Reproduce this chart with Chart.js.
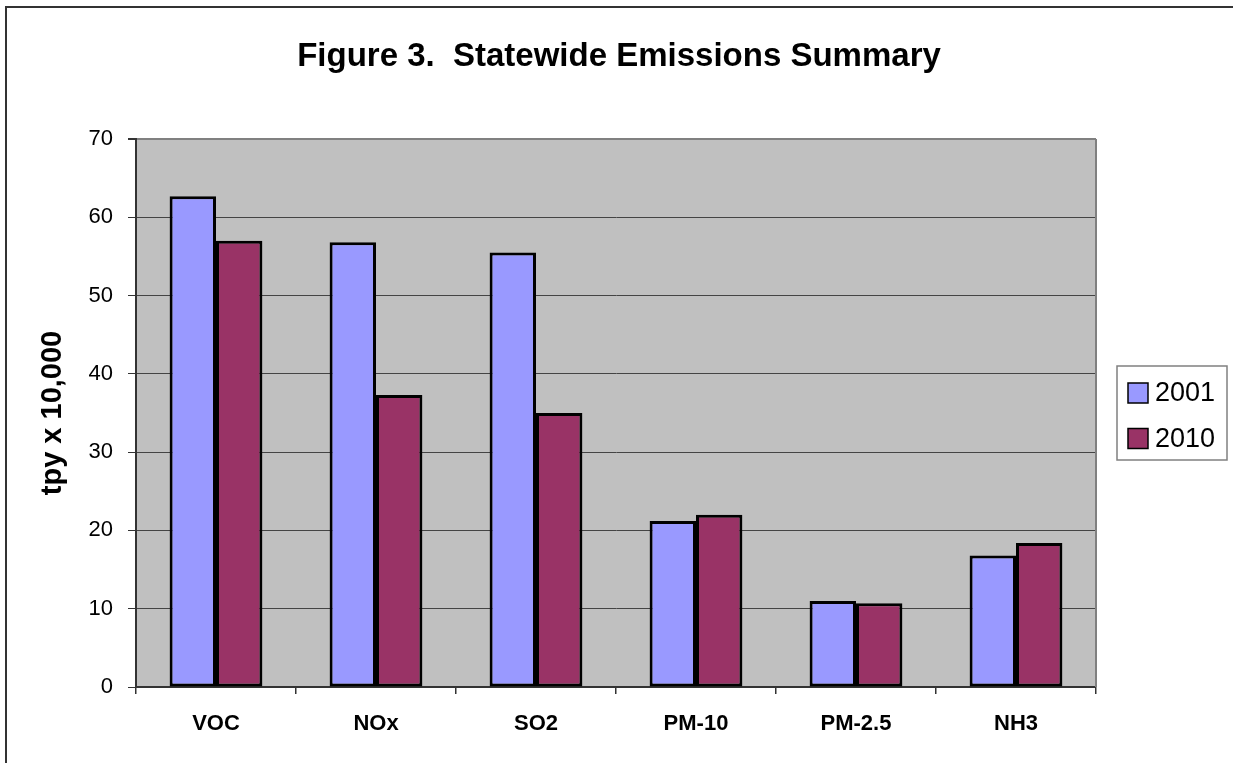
<!DOCTYPE html>
<html>
<head>
<meta charset="utf-8">
<script src="https://cdn.jsdelivr.net/npm/chart.js@4/dist/chart.umd.min.js"></script>
<style>
  html, body { margin: 0; padding: 0; background: #fff; overflow: hidden; }
  #wrap { position: relative; width: 1233px; height: 763px; }
</style>
</head>
<body>
<div id="wrap"><canvas id="chart" width="1233" height="763"></canvas></div>
<script>
// Pollutant categories and emissions (tons per year x 10,000)
const categories = ['VOC', 'NOx', 'SO2', 'PM-10', 'PM-2.5', 'NH3'];
const emissions2001 = [62.7, 56.8, 55.5, 21.2, 11.0, 16.8];
const emissions2010 = [57.0, 37.3, 35.0, 22.0, 10.7, 18.4];
const seriesLabels = ['2001', '2010'];
const yTicks = [0, 10, 20, 30, 40, 50, 60, 70];
const chartTitle = 'Figure 3.  Statewide Emissions Summary';

const FONT = "'Liberation Sans', Arial, sans-serif";

// Plot background, outer frame and right edge of the plot area
const framePlugin = {
  id: 'frame',
  beforeDraw(chart) {
    const { ctx, chartArea: a } = chart;
    ctx.save();
    ctx.fillStyle = '#fff';
    ctx.fillRect(0, 0, chart.width, chart.height);
    ctx.fillStyle = '#C0C0C0';
    ctx.fillRect(a.left, a.top, a.right - a.left, a.bottom - a.top);
    ctx.strokeStyle = '#333';
    ctx.lineWidth = 2;
    ctx.strokeRect(6, 7, chart.width + 20, chart.height + 20);
    ctx.restore();
  },
  beforeDatasetsDraw(chart) {
    const { ctx, chartArea: a } = chart;
    ctx.save();
    ctx.strokeStyle = '#808080';
    ctx.lineWidth = 2;
    ctx.beginPath();
    ctx.moveTo(a.right, a.top);
    ctx.lineTo(a.right, a.bottom);
    ctx.stroke();
    ctx.restore();
  }
};

// Title centred over the whole figure (plot plus legend column)
const figureTitlePlugin = {
  id: 'figureTitle',
  afterDraw(chart) {
    const { ctx } = chart;
    ctx.save();
    ctx.fillStyle = '#000';
    ctx.font = 'bold 33px ' + FONT;
    ctx.textAlign = 'center';
    ctx.textBaseline = 'middle';
    ctx.fillText(chartTitle, 619, 57);
    ctx.restore();
  }
};

// Boxed legend on the right side of the plot
const boxLegendPlugin = {
  id: 'boxLegend',
  afterDraw(chart) {
    const { ctx } = chart;
    const x = 1117, y = 366, w = 110, h = 94;
    ctx.save();
    ctx.fillStyle = '#fff';
    ctx.fillRect(x, y, w, h);
    ctx.strokeStyle = '#808080';
    ctx.lineWidth = 1.5;
    ctx.strokeRect(x, y, w, h);
    ctx.font = '27px ' + FONT;
    ctx.textBaseline = 'middle';
    ctx.textAlign = 'left';
    chart.data.datasets.forEach((ds, i) => {
      const cy = 393 + i * 45.5;
      ctx.fillStyle = ds.backgroundColor;
      ctx.fillRect(1128, cy - 10, 20, 20);
      ctx.strokeStyle = '#000';
      ctx.lineWidth = 1.5;
      ctx.strokeRect(1128, cy - 10, 20, 20);
      ctx.fillStyle = '#000';
      ctx.fillText(ds.label, 1155, cy + 1);
    });
    ctx.restore();
  }
};

new Chart(document.getElementById('chart'), {
  type: 'bar',
  data: {
    labels: categories,
    datasets: [
      {
        label: seriesLabels[0],
        data: emissions2001,
        backgroundColor: '#9999FF',
        borderColor: '#000',
        borderWidth: 3,
        borderSkipped: false,
        categoryPercentage: 0.58,
        barPercentage: 1.0
      },
      {
        label: seriesLabels[1],
        data: emissions2010,
        backgroundColor: '#993366',
        borderColor: '#000',
        borderWidth: 3,
        borderSkipped: false,
        categoryPercentage: 0.58,
        barPercentage: 1.0
      }
    ]
  },
  options: {
    responsive: false,
    animation: false,
    devicePixelRatio: 1,
    layout: { padding: { left: 0, right: 137, top: 139, bottom: 0 } },
    plugins: {
      legend: { display: false },
      tooltip: { enabled: false },
      title: { display: false }
    },
    scales: {
      x: {
        offset: true,
        grid: {
          offset: true,
          drawOnChartArea: false,
          drawTicks: true,
          tickLength: 7,
          color: '#333',
          lineWidth: 1.5
        },
        border: { color: '#333', width: 2 },
        ticks: {
          color: '#000',
          font: { family: FONT, size: 22, weight: 'bold' },
          padding: 17,
          maxRotation: 0
        },
        afterFit(scale) { scale.height = 76; }
      },
      y: {
        min: 0,
        max: 70,
        afterBuildTicks(scale) { scale.ticks = yTicks.map(v => ({ value: v })); },
        grid: {
          color: (c) => (c.tick && c.tick.value === 70 ? '#808080' : '#444'),
          lineWidth: (c) => (c.tick && c.tick.value === 70 ? 2 : 1),
          tickColor: '#333',
          tickLength: 8,
          drawTicks: true
        },
        border: { color: '#333', width: 2 },
        ticks: {
          color: '#000',
          font: { family: FONT, size: 22 },
          padding: 15
        },
        title: {
          display: true,
          text: 'tpy x 10,000',
          color: '#000',
          font: { family: FONT, size: 29, weight: 'bold' },
          padding: { top: 36, bottom: 0 }
        },
        afterFit(scale) { scale.width = 136; }
      }
    }
  },
  plugins: [framePlugin, figureTitlePlugin, boxLegendPlugin]
});
</script>
</body>
</html>
